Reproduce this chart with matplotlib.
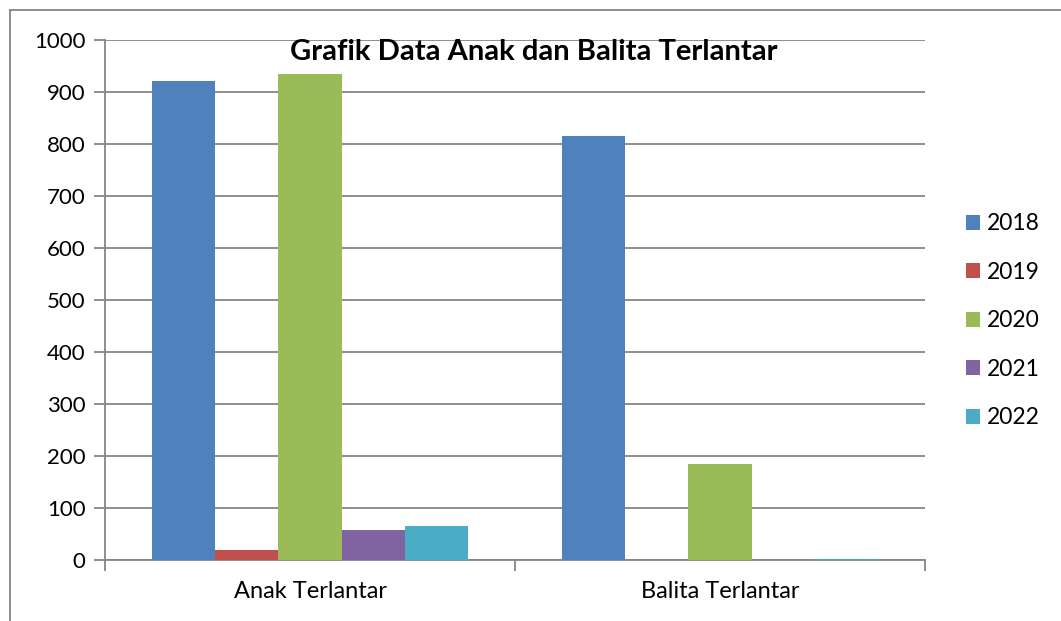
import matplotlib
matplotlib.use('Agg')
import matplotlib.pyplot as plt
import numpy as np
from matplotlib.lines import Line2D

plt.rcParams['font.family'] = ['Lato', 'DejaVu Sans']

# ── Data ───────────────────────────────────────────────────────────────
kategori = ['Anak Terlantar', 'Balita Terlantar']
tahun    = ['2018', '2019', '2020', '2021', '2022']
nilai_2018 = [922, 815]
nilai_2019 = [19, 0]
nilai_2020 = [934, 185]
nilai_2021 = [58, 0]
nilai_2022 = [65, 2]
warna = ['#4F81BD', '#C0504D', '#9BBB59', '#8064A2', '#4BACC6']
yticks = [0, 100, 200, 300, 400, 500, 600, 700, 800, 900, 1000]

semua = [nilai_2018, nilai_2019, nilai_2020, nilai_2021, nilai_2022]

# ── Grafik ─────────────────────────────────────────────────────────────
W, H = 1061, 621
fig = plt.figure(figsize=(W / 100, H / 100), dpi=100)
ax = fig.add_axes([105 / W, 1 - 560 / H, 820 / W, 520 / H])

# bingkai luar chart (terpotong di kanan dan bawah)
fig.add_artist(Line2D([9.5 / W, 9.5 / W], [0, 1 - 10 / H], transform=fig.transFigure,
                      color='#868686', linewidth=1.3))
fig.add_artist(Line2D([9.5 / W, 1], [1 - 10 / H, 1 - 10 / H], transform=fig.transFigure,
                      color='#868686', linewidth=1.3))

lebar = 1 / 6.5
x = np.arange(len(kategori))
for i, (t, v) in enumerate(zip(tahun, semua)):
    pos = x - 2.5 * lebar + lebar / 2 + i * lebar + 0.5
    ax.bar(pos, v, width=lebar, color=warna[i], label=t, zorder=3)

ax.set_xlim(0, 2)
ax.set_ylim(0, 1000)
ax.set_yticks(yticks)
ax.set_xticks([0, 1, 2])
ax.set_xticklabels([])
ax.set_xticks(x + 0.5, minor=True)
ax.set_xticklabels(kategori, minor=True)
ax.tick_params(axis='x', which='minor', length=0, pad=15, labelsize=17)
ax.tick_params(axis='x', which='major', length=8, color='#868686', width=1.3)
ax.tick_params(axis='y', length=8, color='#868686', width=1.3, labelsize=16, pad=6)
ax.grid(axis='y', color='#868686', linewidth=1.3, zorder=0)
for s in ['top', 'right']:
    ax.spines[s].set_visible(False)
for s in ['left', 'bottom']:
    ax.spines[s].set_color('#868686')
    ax.spines[s].set_linewidth(1.3)

ax.text(0.523, 0.977, 'Grafik Data Anak dan Balita Terlantar', transform=ax.transAxes,
        ha='center', va='center', fontsize=21, fontweight='bold', zorder=5)

ax.legend(loc='center left', bbox_to_anchor=(1.025, 0.46), frameon=False,
          fontsize=16.5, handlelength=0.62, handleheight=0.62, handletextpad=0.3,
          labelspacing=1.2)

plt.savefig('out.png', dpi=100)
